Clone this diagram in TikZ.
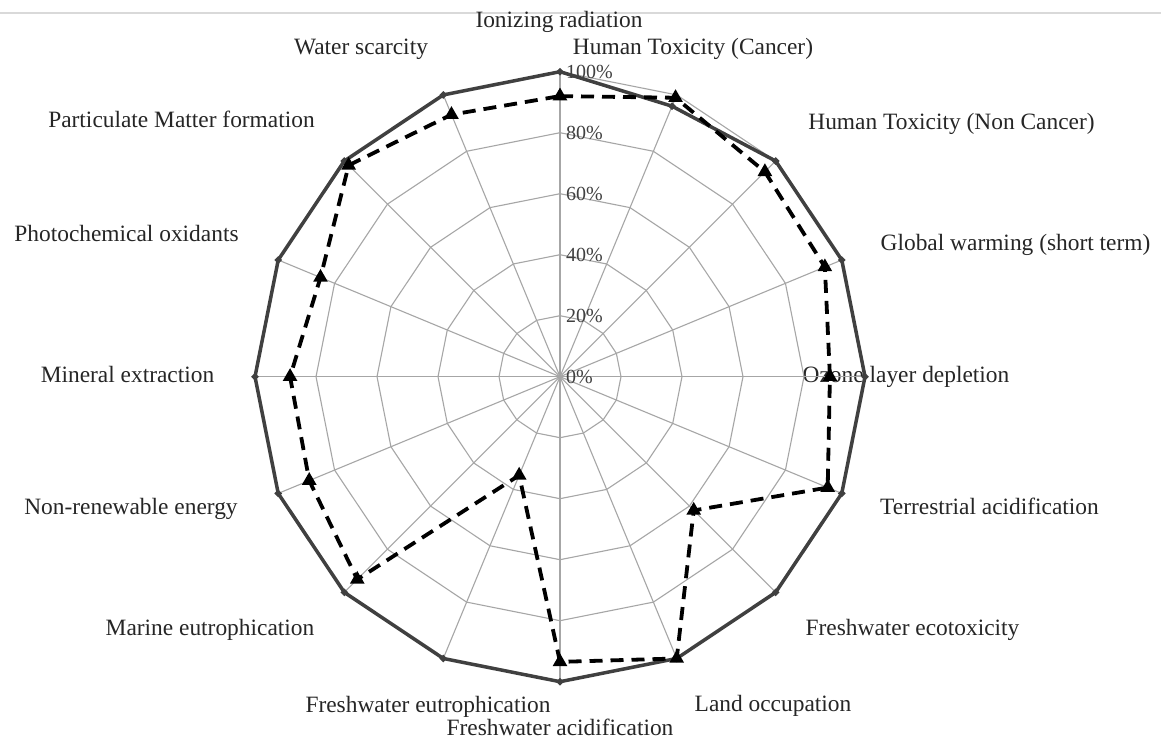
\documentclass[tikz,border=0pt]{standalone}
\usepackage{fontspec}
\setmainfont{Liberation Serif}
\usetikzlibrary{shapes.geometric}
\definecolor{gridc}{HTML}{A6A6A6}
\definecolor{refc}{HTML}{404040}
\definecolor{labc}{HTML}{262626}
\definecolor{topc}{HTML}{D9D9D9}
\tikzset{
  gridline/.style={draw=gridc, line width=1.1pt},
  refline/.style={draw=refc, line width=3.5pt, line join=miter},
  dataline/.style={draw=black, line width=3.8pt, dash pattern=on 13pt off 8pt, line join=miter},
  tri/.style={regular polygon, regular polygon sides=3, fill=black, inner sep=0pt, minimum size=17pt},
  dia/.style={diamond, fill=refc, inner sep=0pt, minimum size=8pt},
  axlabel/.style={anchor=base, inner sep=0pt, text=labc, font=\fontsize{23.4}{27}\selectfont},
  pctlabel/.style={anchor=west, inner sep=0pt, text=refc, font=\fontsize{20}{23}\selectfont},
}
\begin{document}
\begin{tikzpicture}[x=1pt,y=1pt]
\useasboundingbox (0,0) rectangle (1161,742);
\fill[white] (0,0) rectangle (1161,742);
\coordinate (tl) at (0,729);
\coordinate (tr) at (1161,729);
\draw[topc, line width=2pt] (tl) -- (tr);
% axis labels (y = 742 - baseline)
\node[axlabel] (l0) at (559,714.5) {Ionizing radiation};
\node[axlabel] (l1) at (693,687.5) {Human Toxicity (Cancer)};
\node[axlabel] (l2) at (951.5,612.5) {Human Toxicity (Non Cancer)};
\node[axlabel] (l3) at (1015.5,491.5) {Global warming (short term)};
\node[axlabel] (l4) at (906,359) {Ozone layer depletion};
\node[axlabel] (l5) at (989.5,227.5) {Terrestrial acidification};
\node[axlabel] (l6) at (912.5,106.5) {Freshwater ecotoxicity};
\node[axlabel] (l7) at (773,30.5) {Land occupation};
\node[axlabel] (l8) at (560,6.5) {Freshwater acidification};
\node[axlabel] (l9) at (428,30) {Freshwater eutrophication};
\node[axlabel] (l10) at (210,106.5) {Marine eutrophication};
\node[axlabel] (l11) at (131,227.5) {Non-renewable energy};
\node[axlabel] (l12) at (127.5,359) {Mineral extraction};
\node[axlabel] (l13) at (126.5,500.5) {Photochemical oxidants};
\node[axlabel] (l14) at (181.5,614.5) {Particulate Matter formation};
\node[axlabel] (l15) at (361,687.5) {Water scarcity};
\begin{scope}[shift={(560,365.3)}]
  \coordinate (C) at (0,0);
  % grid rings
  \foreach \r in {61,122,183,244,305}{
    \draw[gridline] (90:\r) \foreach \k in {1,...,15}{ -- ({90-22.5*\k}:\r)} -- cycle;
  }
  % spokes
  \foreach \k in {0,...,15}{
    \coordinate (s\k) at ({90-22.5*\k}:305);
    \draw[gridline] (C) -- (s\k);
  }
  % percentage labels
  \foreach \p [count=\j from 0] in {0\%,20\%,40\%,60\%,80\%,100\%}{
    \node[pctlabel] (p\j) at (6,{61*\j}) {\p};
  }
  % reference series
  \foreach \v [count=\i from 0] in {100,96,100,100,100,100,100,100,100,100,100,100,100,100,100,100}{
    \coordinate (r\i) at ({90-22.5*\i}:{3.05*\v});
  }
  \draw[refline] (r0) \foreach \i in {1,...,15}{ -- (r\i)} -- cycle;
  \foreach \i in {0,...,15}{ \node[dia] (rm\i) at (r\i) {}; }
  % data series
  \foreach \v [count=\i from 0] in {92,99,95,94,88.5,95,62,100,93.5,35,94,89,88.5,85,98,93}{
    \coordinate (d\i) at ({90-22.5*\i}:{3.05*\v});
  }
  \draw[dataline] (d0) \foreach \i in {1,...,15}{ -- (d\i)} -- cycle;
  \foreach \i in {0,...,15}{ \node[tri] (dm\i) at (d\i) {}; }
\end{scope}
\end{tikzpicture}
\end{document}
